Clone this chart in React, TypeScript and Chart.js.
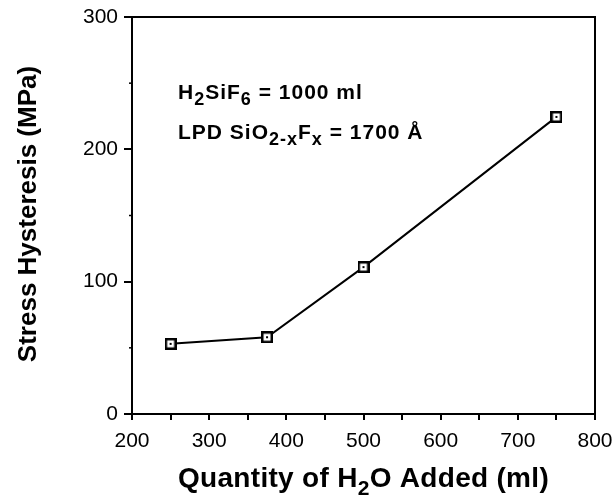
import React, { useEffect, useRef } from "react";
import { Chart, registerables } from "chart.js";

Chart.register(...registerables);

const waterAdded = [250, 375, 500, 750];
const stressHysteresis = [53, 58, 111, 224.5];
const xTickValues = [200, 300, 400, 500, 600, 700, 800];
const yTickValues = [0, 100, 200, 300];
const yMinorTicks = [50, 150, 250];

const FONT = "'Liberation Sans', Arial, Helvetica, sans-serif";

type Seg = { t: string; sub?: boolean };

function setFont(ctx: CanvasRenderingContext2D, size: number, spacing: number) {
  ctx.font = `bold ${size}px ${FONT}`;
  (ctx as any).letterSpacing = `${spacing}px`;
}

function richWidth(ctx: CanvasRenderingContext2D, segs: Seg[], size: number, spacing: number, subScale: number) {
  let w = 0;
  for (const s of segs) {
    setFont(ctx, s.sub ? Math.round(size * subScale) : size, spacing);
    w += ctx.measureText(s.t).width;
  }
  return w;
}

function drawRich(
  ctx: CanvasRenderingContext2D,
  segs: Seg[],
  x: number,
  y: number,
  size: number,
  align: "left" | "center",
  spacing = 0,
  subScale = 0.8
) {
  const total = richWidth(ctx, segs, size, spacing, subScale);
  let cx = align === "center" ? x - total / 2 : x;
  ctx.textAlign = "left";
  ctx.textBaseline = "alphabetic";
  ctx.fillStyle = "#000";
  for (const s of segs) {
    const sz = s.sub ? Math.round(size * subScale) : size;
    setFont(ctx, sz, spacing);
    ctx.fillText(s.t, cx, s.sub ? y + size * 0.28 : y);
    cx += ctx.measureText(s.t).width;
  }
  (ctx as any).letterSpacing = "0px";
}

function makeMarker() {
  const c = document.createElement("canvas");
  c.width = 12;
  c.height = 12;
  const g = c.getContext("2d")!;
  g.fillStyle = "#fff";
  g.fillRect(0, 0, 12, 12);
  g.strokeStyle = "#000";
  g.lineWidth = 2.5;
  g.strokeRect(1.25, 1.25, 9.5, 9.5);
  g.fillStyle = "#000";
  g.fillRect(5, 5, 2, 2);
  return c;
}

const decorPlugin = {
  id: "decor",
  afterDraw(chart: any) {
    const ctx: CanvasRenderingContext2D = chart.ctx;
    const a = chart.chartArea;
    const ys = chart.scales.y;
    ctx.save();
    ctx.strokeStyle = "#000";
    ctx.lineWidth = 2;
    ctx.strokeRect(a.left, a.top, a.right - a.left, a.bottom - a.top);

    // minor y ticks
    ctx.lineWidth = 1.5;
    for (const v of yMinorTicks) {
      const py = ys.getPixelForValue(v);
      ctx.beginPath();
      ctx.moveTo(a.left - 3, py);
      ctx.lineTo(a.left + 1, py);
      ctx.stroke();
    }

    // annotations
    drawRich(
      ctx,
      [{ t: "H" }, { t: "2", sub: true }, { t: "SiF" }, { t: "6", sub: true }, { t: " = 1000 ml" }],
      178,
      99,
      21,
      "left",
      1,
      0.86
    );
    drawRich(
      ctx,
      [
        { t: "LPD SiO" },
        { t: "2-x", sub: true },
        { t: "F" },
        { t: "x", sub: true },
        { t: " = 1700 Å" },
      ],
      178,
      139,
      21,
      "left",
      1,
      0.86
    );

    // x title
    drawRich(
      ctx,
      [{ t: "Quantity of H" }, { t: "2", sub: true }, { t: "O Added (ml)" }],
      (a.left + a.right) / 2,
      487,
      28,
      "center",
      0.3,
      0.75
    );

    // y title
    ctx.save();
    ctx.translate(36, 214);
    ctx.rotate(-Math.PI / 2);
    drawRich(ctx, [{ t: "Stress Hysteresis (MPa)" }], 0, 0, 26, "center");
    ctx.restore();
    ctx.restore();
  },
};

export default function App() {
  const ref = useRef<HTMLCanvasElement | null>(null);

  useEffect(() => {
    if (!ref.current) return;
    document.body.style.margin = "0";
    const marker = makeMarker();
    const chart = new Chart(ref.current, {
      type: "scatter",
      data: {
        datasets: [
          {
            data: waterAdded.map((x, i) => ({ x, y: stressHysteresis[i] })),
            showLine: true,
            borderColor: "#000",
            borderWidth: 2,
            pointStyle: marker as any,
            pointRadius: 6,
          },
        ],
      },
      options: {
        responsive: false,
        animation: false,
        layout: { padding: { top: 17, right: 20, left: 0, bottom: 0 } },
        plugins: { legend: { display: false }, tooltip: { enabled: false } },
        scales: {
          x: {
            type: "linear",
            min: xTickValues[0],
            max: xTickValues[xTickValues.length - 1],
            afterFit: (s: any) => {
              s.height = 84;
              s.paddingLeft = 0;
              s.paddingRight = 0;
            },
            afterBuildTicks: (s: any) => {
              const t: any[] = [];
              for (let v = xTickValues[0]; v <= xTickValues[xTickValues.length - 1]; v += 50) t.push({ value: v });
              s.ticks = t;
            },
            ticks: {
              autoSkip: false,
              maxRotation: 0,
              color: "#000",
              padding: 9,
              font: { family: FONT, size: 21, weight: "normal" as any },
              callback: (v: any) => (xTickValues.includes(Number(v)) ? String(v) : ""),
            },
            grid: { drawOnChartArea: false, tickLength: 6, color: "#000", lineWidth: 2 },
            border: { display: true, color: "#000", width: 2 },
          },
          y: {
            type: "linear",
            min: yTickValues[0],
            max: yTickValues[yTickValues.length - 1],
            afterFit: (s: any) => {
              s.width = 132;
              s.paddingTop = 0;
              s.paddingBottom = 0;
            },
            afterBuildTicks: (s: any) => {
              s.ticks = yTickValues.map((v) => ({ value: v }));
            },
            ticks: {
              autoSkip: false,
              color: "#000",
              padding: 6,
              font: { family: FONT, size: 21, weight: "normal" as any },
              callback: (v: any) => String(v),
            },
            grid: { drawOnChartArea: false, tickLength: 8, color: "#000", lineWidth: 2 },
            border: { display: true, color: "#000", width: 2 },
          },
        },
      },
      plugins: [decorPlugin],
    });
    return () => chart.destroy();
  }, []);

  return (
    <div style={{ position: "fixed", left: 0, top: 0, width: 615, height: 498, background: "#fff" }}>
      <canvas ref={ref} width={615} height={498} />
    </div>
  );
}
